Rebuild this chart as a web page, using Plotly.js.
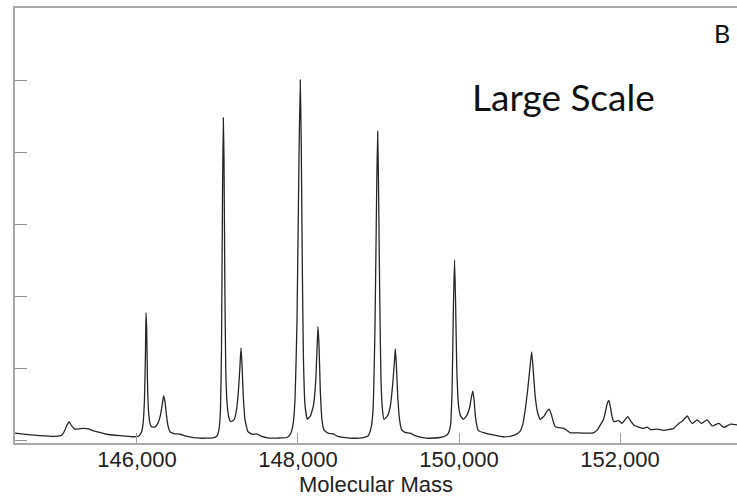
<!DOCTYPE html>
<html>
<head>
<meta charset="utf-8">
<script src="https://cdn.plot.ly/plotly-3.0.1.min.js"></script>
<style>html,body{margin:0;padding:0;background:#fff;}#chart{width:737px;height:498px;}</style>
</head>
<body>
<div id="chart"></div>
<script>
// Molecular mass (Da)
const mass = [
144485,144646,144795,144981,145068,145106,145131,145159,145186,145230,145280,145333,145395,145453,145540,145624,145789,145954,
146025,146056,146075,146093,146106,146112,146121,146130,146143,146161,146180,146224,146261,146292,146317,146332,146348,146367,146386,146410,146460,146534,146609,146782,146944,
146994,147018,147037,147050,147062,147072,147081,147091,147103,147121,147143,147164,147205,147236,147261,147280,147292,147305,147320,147342,147379,147429,147487,147541,147627,147751,147863,
147907,147938,147963,147988,148012,148028,148040,148053,148068,148087,148116,148155,148193,148221,148236,148248,148261,148277,148298,148323,148372,148434,148497,148646,148795,
148869,148907,148932,148956,148979,148990,149001,149016,149031,149050,149068,149112,149149,149181,149199,149209,149222,149238,149262,149289,149330,149392,149454,149599,149764,
149839,149868,149895,149914,149932,149945,149957,149973,149994,150019,150054,150094,150131,150156,150171,150187,150206,150241,150324,150428,150552,150648,
150719,150760,150791,150822,150853,150878,150903,150922,150947,150978,151009,151059,151096,151121,151146,151171,151196,151299,151333,151383,151445,151569,151668,
151718,151756,151793,151818,151843,151862,151880,151899,151921,151984,152026,152061,152096,152129,152170,152229,152295,152337,152378,152461,152544,152602,152668,
152730,152776,152835,152863,152897,152959,153009,153083,153145,153227,153290,153373,153456
];
// Relative intensity (%)
const intensity = [
1.9,1.5,1.2,1.0,1.4,2.8,4.2,5.0,4.0,3.0,3.1,3.25,3.1,2.6,2.1,1.6,1.2,0.9,
1.1,2.2,4.4,11.1,25.0,35.4,30.6,16.7,8.3,4.7,3.7,3.6,4.7,6.9,10.3,12.3,10.6,6.7,3.9,2.3,1.8,1.6,1.1,0.5,0.6,
1.1,2.8,8.3,25.0,66.7,89.5,77.8,44.4,19.4,9.7,6.1,5.1,5.6,8.3,13.9,20.8,25.6,20.8,12.5,5.6,2.3,1.6,1.7,1.1,0.6,0.55,0.7,
1.7,4.2,11.1,33.3,77.8,100,83.3,50.0,22.2,9.7,5.8,6.7,9.7,16.7,25.0,31.5,26.4,13.9,5.6,2.8,1.9,1.7,1.0,0.55,0.6,
1.1,3.3,8.3,30.6,72.2,85.8,69.4,38.9,16.7,8.3,5.75,6.7,9.7,16.7,22.2,25.3,20.8,12.5,5.6,2.8,2.1,1.9,1.25,0.5,0.7,
1.25,1.9,4.2,13.9,38.9,50.0,38.9,19.4,9.7,6.7,5.75,6.7,8.9,12.2,13.6,11.1,6.1,2.6,1.9,1.4,0.9,1.1,
1.7,2.5,4.2,8.3,13.9,19.4,24.5,19.4,12.0,7.5,5.75,6.7,8.1,8.6,7.2,5.1,3.7,3.25,2.8,2.0,2.0,1.9,2.0,
2.8,4.2,5.6,7.8,10.3,11.0,9.2,6.7,5.1,5.4,4.6,5.6,6.5,5.4,4.2,3.6,3.25,3.6,2.9,3.0,2.7,2.9,3.25,
4.6,5.3,6.7,5.6,4.6,5.6,4.6,5.6,3.9,4.6,3.5,4.4,4.2
];
const xTickVals = [146000,148000,150000,152000];
const xTickText = ["146,000","148,000","150,000","152,000"];
const yTickVals = [0,20,40,60,80,100];

const trace = {
  x: mass, y: intensity, type: 'scatter', mode: 'lines',
  line: {color: '#262626', width: 1.3, shape: 'spline', smoothing: 0.4},
  hoverinfo: 'skip'
};

const layout = {
  width: 737, height: 498,
  margin: {l: 15, r: 0, t: 8, b: 55},
  paper_bgcolor: '#ffffff', plot_bgcolor: '#ffffff',
  showlegend: false,
  font: {family: 'Liberation Sans, Arial, sans-serif', color: '#222'},
  xaxis: {
    range: [144485, 153453],
    tickvals: xTickVals, ticktext: xTickText,
    ticks: 'inside', ticklen: 10, tickwidth: 1, tickcolor: '#a0a0a0',
    ticklabelstandoff: -4,
    showline: true, linecolor: '#a8a8a8', linewidth: 2, mirror: true,
    showgrid: false, zeroline: false,
    tickfont: {size: 22, color: '#222', family: 'Liberation Sans, Arial, sans-serif'},
    title: {text: 'Molecular Mass', font: {size: 22, color: '#222', family: 'Liberation Sans, Arial, sans-serif'}, standoff: 4}
  },
  yaxis: {
    range: [-0.83, 120],
    tickvals: yTickVals, showticklabels: false,
    ticks: 'inside', ticklen: 12, tickwidth: 1, tickcolor: '#909090',
    showline: true, linecolor: '#a8a8a8', linewidth: 2,
    showgrid: false, zeroline: false
  },
  annotations: [
    {text: 'Large Scale', xref: 'paper', yref: 'paper', x: 0.760, y: 0.797,
     xanchor: 'center', yanchor: 'middle', showarrow: false,
     font: {family: 'Lato, Open Sans, sans-serif', size: 37, color: '#111'}},
    {text: 'B', xref: 'paper', yref: 'paper', x: 0.979, y: 0.943,
     xanchor: 'center', yanchor: 'middle', showarrow: false,
     font: {family: 'Lato, Open Sans, sans-serif', size: 25, color: '#111'}}
  ]
};

Plotly.newPlot('chart', [trace], layout, {staticPlot: true, displayModeBar: false});
</script>
</body>
</html>
